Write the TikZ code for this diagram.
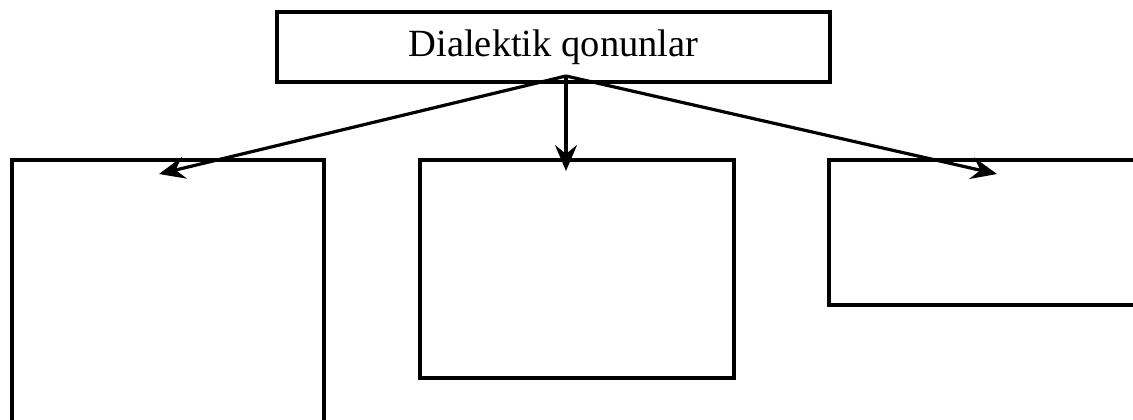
\documentclass[tikz,border=0pt]{standalone}
\usepackage{fontspec}
\setmainfont{Liberation Serif}
\usetikzlibrary{arrows.meta}
\begin{document}
\begin{tikzpicture}[x=1pt,y=-1pt,
  boxline/.style={line width=4pt},
  conn/.style={line width=3.2pt,-{Stealth[length=26pt,width=22pt,inset=9pt]}}]
\useasboundingbox (0,0) rectangle (1133,420);
\fill[white] (0,0) rectangle (1133,420);
\node[draw=black,boxline,minimum width=553pt,minimum height=70pt,inner sep=0pt,font=\fontsize{38.5}{42}\selectfont] (top) at (553.5,47) {Dialektik qonunlar};
\draw[boxline] (12,445) -- (12,160) -- (324,160) -- (324,445);
\node[draw=black,boxline,minimum width=314pt,minimum height=218pt,inner sep=0pt] (mid) at (577,269) {};
\draw[boxline] (1145,160) -- (829,160) -- (829,305) -- (1145,305);
\coordinate (apex) at (566,76);
\coordinate (lt) at (159,174);
\coordinate (mt) at (566,171);
\coordinate (rt) at (997,174);
\draw[conn] (apex) -- (lt);
\draw[conn] (apex) -- (mt);
\draw[conn] (apex) -- (rt);
\end{tikzpicture}
\end{document}
